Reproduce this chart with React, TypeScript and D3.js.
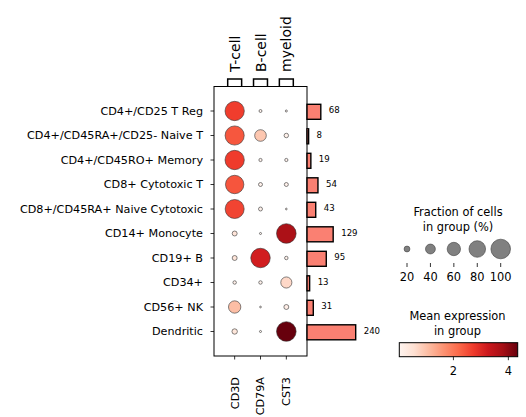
import React from 'react';
import * as d3 from 'd3';

const groups = [
  'CD4+/CD25 T Reg',
  'CD4+/CD45RA+/CD25- Naive T',
  'CD4+/CD45RO+ Memory',
  'CD8+ Cytotoxic T',
  'CD8+/CD45RA+ Naive Cytotoxic',
  'CD14+ Monocyte',
  'CD19+ B',
  'CD34+',
  'CD56+ NK',
  'Dendritic',
];
const genes = ['CD3D', 'CD79A', 'CST3'];
const geneGroups = ['T-cell', 'B-cell', 'myeloid'];

// fraction of cells expressing (0..1), one array per gene
const fracCD3D = [0.98, 0.97, 0.98, 0.92, 0.96, 0.16, 0.16, 0.1, 0.54, 0.18];
const fracCD79A = [0.08, 0.5, 0.09, 0.12, 0.12, 0.05, 0.99, 0.1, 0.04, 0.05];
const fracCST3 = [0.05, 0.14, 0.09, 0.12, 0.04, 1.0, 0.1, 0.47, 0.16, 1.0];

// mean expression in group
const meanCD3D = [2.7, 2.4, 2.72, 2.42, 2.62, 0.46, 0.45, 0.15, 1.06, 0.4];
const meanCD79A = [0.08, 0.94, 0.1, 0.12, 0.12, 0.06, 3.18, 0.1, 0.04, 0.03];
const meanCST3 = [0.06, 0.14, 0.1, 0.12, 0.05, 3.7, 0.12, 0.68, 0.2, 4.34];

const totals = [68, 8, 19, 54, 43, 129, 95, 13, 31, 240];

const sizeLegendValues = [20, 40, 60, 80, 100];
const colorbarTicks = [2, 4];

const reds = ['#fff5f0', '#fee0d2', '#fcbba1', '#fc9272', '#fb6a4a', '#ef3b2c', '#cb181d', '#a50f15', '#67000d'];

const FONT = 'DejaVu Sans, sans-serif';

const App: React.FC = () => {
  const width = 526;
  const height = 417;

  const fracs = [fracCD3D, fracCD79A, fracCST3];
  const means = [meanCD3D, meanCD79A, meanCST3];
  const allMeans = means.flat();
  const vmin = d3.min(allMeans) || 0;
  const vmax = d3.max(allMeans) || 1;

  const xCol = d3.scaleLinear().domain([-0.8, 2.8]).range([214, 307]);
  const yRow = d3.scaleLinear().domain([-1, 10]).range([86.5, 356]);
  const rScale = d3.scalePow().exponent(0.75).domain([0, 1]).range([0, 9.8]);

  const t = d3.scaleLinear().domain([vmin, vmax]).range([0, 1]);
  const redsScale = d3.scaleLinear<string>()
    .domain(reds.map((_, i) => i / (reds.length - 1)))
    .range(reds)
    .interpolate(d3.interpolateRgb);
  const color = (v: number) => redsScale(t(v));

  const xBar = d3.scaleLinear().domain([0, 240]).range([307, 355.7]);
  const barH = 15;

  const sizeX = d3.scalePoint<number>().domain(sizeLegendValues).range([407, 500.7]);
  const cbX = d3.scaleLinear().domain([vmin, vmax]).range([399.3, 517.7]);

  const frameTop = yRow(-1);
  const frameBottom = yRow(10);
  const frameLeft = xCol(-0.8);
  const frameRight = xCol(2.8);

  return (
    <svg width={width} height={height} style={{ position: 'absolute', left: 0, top: 0, fontFamily: FONT }}>
      <defs>
        <linearGradient id="redsGrad" x1="0%" x2="100%" y1="0%" y2="0%">
          {reds.map((c, i) => (
            <stop key={i} offset={`${(i / (reds.length - 1)) * 100}%`} stopColor={c} />
          ))}
        </linearGradient>
      </defs>

      {/* gene group brackets */}
      {geneGroups.map((g, i) => {
        const x0 = xCol(i - 0.27);
        const x1 = xCol(i + 0.27);
        return (
          <g key={g}>
            <path
              d={`M${x0},${frameTop} V79 H${x1} V${frameTop}`}
              fill="none"
              stroke="#000"
              strokeWidth={1.5}
            />
            <text
              transform={`translate(${xCol(i)},72) rotate(-90)`}
              dy="0.36em"
              fontSize={14}
              textAnchor="start"
            >
              {g}
            </text>
          </g>
        );
      })}

      {/* frame */}
      <rect
        x={frameLeft}
        y={frameTop}
        width={frameRight - frameLeft}
        height={frameBottom - frameTop}
        fill="#fff"
        stroke="#000"
        strokeWidth={1}
      />

      {/* y ticks and labels */}
      {groups.map((g, i) => (
        <g key={g}>
          <line x1={frameLeft - 3.5} x2={frameLeft} y1={yRow(i)} y2={yRow(i)} stroke="#000" strokeWidth={0.8} />
          <text x={203} y={yRow(i)} dy="0.35em" textAnchor="end" fontSize={11.2}>
            {g}
          </text>
        </g>
      ))}

      {/* x ticks and labels */}
      {genes.map((g, i) => (
        <g key={g}>
          <line x1={xCol(i)} x2={xCol(i)} y1={frameBottom} y2={frameBottom + 3.5} stroke="#000" strokeWidth={0.8} />
          <text
            transform={`translate(${xCol(i)},377) rotate(-90)`}
            dy="0.35em"
            textAnchor="end"
            fontSize={11.2}
          >
            {g}
          </text>
        </g>
      ))}

      {/* dots */}
      {genes.map((g, j) =>
        groups.map((grp, i) => (
          <circle
            key={`${g}-${grp}`}
            cx={xCol(j)}
            cy={yRow(i)}
            r={rScale(fracs[j][i])}
            fill={color(means[j][i])}
            stroke="#333"
            strokeWidth={0.6}
          />
        ))
      )}

      {/* totals bars */}
      {totals.map((v, i) => (
        <g key={i}>
          <rect
            x={xBar(0)}
            y={yRow(i) - barH / 2 + 0.8}
            width={xBar(v) - xBar(0)}
            height={barH}
            fill="#fa8072"
            stroke="#000"
            strokeWidth={1.4}
          />
          <text x={xBar(v) + 8} y={yRow(i) - 1} dy="0.35em" fontSize={8.6}>
            {v}
          </text>
        </g>
      ))}

      {/* size legend */}
      <text x={458} y={216} textAnchor="middle" fontSize={11.4}>Fraction of cells</text>
      <text x={458} y={231} textAnchor="middle" fontSize={11.4}>in group (%)</text>
      {sizeLegendValues.map((v) => (
        <g key={v}>
          <circle
            cx={sizeX(v)}
            cy={249}
            r={rScale(v / 100)}
            fill="#808080"
            stroke="#404040"
            strokeWidth={0.6}
          />
          <line x1={sizeX(v)} x2={sizeX(v)} y1={263} y2={267} stroke="#000" strokeWidth={0.8} />
          <text x={sizeX(v)} y={277} dy="0.35em" textAnchor="middle" fontSize={11.4}>
            {v}
          </text>
        </g>
      ))}

      {/* colorbar */}
      <text x={457.5} y={320} textAnchor="middle" fontSize={11.4}>Mean expression</text>
      <text x={457.5} y={335} textAnchor="middle" fontSize={11.4}>in group</text>
      <rect
        x={cbX(vmin)}
        y={342.7}
        width={cbX(vmax) - cbX(vmin)}
        height={14}
        fill="url(#redsGrad)"
        stroke="#000"
        strokeWidth={1}
      />
      {colorbarTicks.map((v) => (
        <g key={v}>
          <line x1={cbX(v)} x2={cbX(v)} y1={356.7} y2={360.2} stroke="#000" strokeWidth={0.8} />
          <text x={cbX(v)} y={371} dy="0.35em" textAnchor="middle" fontSize={11.4}>
            {v}
          </text>
        </g>
      ))}
    </svg>
  );
};

export default App;
